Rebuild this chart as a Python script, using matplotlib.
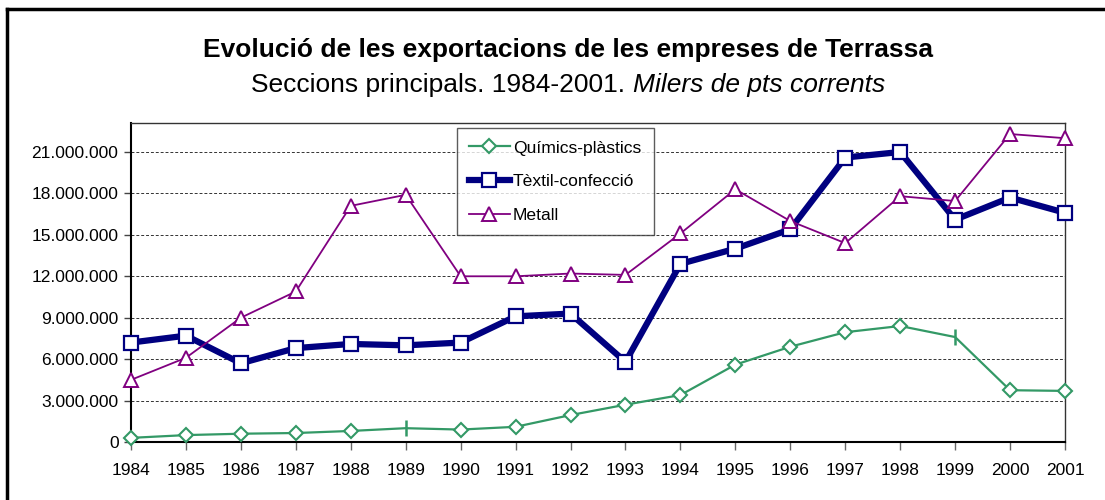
import matplotlib
matplotlib.use("Agg")
import matplotlib.pyplot as plt
from matplotlib.ticker import FuncFormatter, MultipleLocator
from matplotlib.lines import Line2D

plt.rcParams['font.family'] = ['Liberation Sans', 'DejaVu Sans']

years = list(range(1984, 2002))
quimics = [0.30, 0.50, 0.60, 0.65, 0.80, 1.00, 0.90, 1.10, 1.95, 2.70, 3.40, 5.60,
           6.90, 7.95, 8.40, 7.60, 3.75, 3.70]
textil = [7.20, 7.70, 5.70, 6.80, 7.10, 7.00, 7.20, 9.10, 9.30, 5.80, 12.90, 14.00,
          15.40, 20.60, 21.00, 16.10, 17.70, 16.60]
metall = [4.50, 6.10, 9.00, 10.90, 17.10, 17.90, 12.00, 12.00, 12.20, 12.10, 15.10, 18.30,
          16.00, 14.40, 17.80, 17.45, 22.30, 22.00]
quimics_tick_idx = [5, 15]  # points drawn with a vertical tick marker

series_names = ["Químics-plàstics", "Tèxtil-confecció", "Metall"]
title = "Evolució de les exportacions de les empreses de Terrassa"
subtitle_normal = "Seccions principals. 1984-2001. "
subtitle_italic = "Milers de pts corrents"

scale = 1e6
q = [v * scale for v in quimics]
t = [v * scale for v in textil]
m = [v * scale for v in metall]

W, H = 1105, 500
fig = plt.figure(figsize=(W / 100, H / 100), dpi=100)
ax = fig.add_axes([131 / W, 1 - 442 / H, (1065 - 131) / W, (442 - 123) / H])

green = "#339966"
navy = "#000080"
purple = "#800080"

# Químics
q_marks = [i for i in range(len(years)) if i not in quimics_tick_idx]
ax.plot(years, q, color=green, lw=1.6, marker="D", ms=7, mfc="white", mec=green,
        mew=1.5, markevery=q_marks, zorder=4, clip_on=False)
ax.plot([years[i] for i in quimics_tick_idx], [q[i] for i in quimics_tick_idx],
        ls="none", marker="|", ms=11, mew=1.8, color=green, zorder=4, clip_on=False)
# Tèxtil
ax.plot(years, t, color=navy, lw=4.5, marker="s", ms=10, mfc="white", mec=navy,
        mew=1.6, zorder=5, clip_on=False)
# Metall
ax.plot(years, m, color=purple, lw=1.3, marker="^", ms=10, mfc="white", mec=purple,
        mew=1.4, zorder=6, clip_on=False)

ax.set_xlim(1984, 2001)
ax.set_ylim(0, 23.1e6)
ax.set_xticks(years)
ax.set_xticklabels([str(y) for y in years])
ax.yaxis.set_major_locator(MultipleLocator(3e6))
ax.yaxis.set_major_formatter(FuncFormatter(lambda v, p: f"{int(round(v)):,}".replace(",", ".")))
ax.grid(axis="y", color="black", ls=(0, (3, 2)), lw=0.7, alpha=0.8)
ax.set_axisbelow(True)
ax.tick_params(axis="both", labelsize=12.5, colors="black", direction="out")
ax.tick_params(axis="y", length=5, width=1, color="#444444", pad=4)
ax.tick_params(axis="x", length=6, width=1, color="#666666", pad=9)
for s in ["left", "bottom"]:
    ax.spines[s].set_linewidth(1.5)
    ax.spines[s].set_color("black")
for s in ["top", "right"]:
    ax.spines[s].set_linewidth(1.0)
    ax.spines[s].set_color("#333333")

handles = [
    Line2D([], [], color=green, lw=1.6, marker="D", ms=7, mfc="white", mec=green, mew=1.5),
    Line2D([], [], color=navy, lw=4.5, marker="s", ms=10, mfc="white", mec=navy, mew=1.6),
    Line2D([], [], color=purple, lw=1.3, marker="^", ms=10, mfc="white", mec=purple, mew=1.4),
]
leg = ax.legend(handles, series_names, loc="upper left",
                bbox_to_anchor=((457 - 131) / (1065 - 131), (442 - 128) / (442 - 123)),
                fontsize=12.6, frameon=True, fancybox=False, edgecolor="#333333",
                handlelength=2.3, labelspacing=1.05, borderpad=0.7, handletextpad=0.2,
                borderaxespad=0)
leg.get_frame().set_linewidth(1.0)
leg.set_zorder(10)

cx = 568 / W
fig.text(cx, 1 - 50 / H, title, ha="center", va="center", fontsize=19, fontweight="bold")

# subtitle: normal + italic part, centred together
fig.canvas.draw()
renderer = fig.canvas.get_renderer()
t1 = fig.text(0, 1 - 85 / H, subtitle_normal, ha="left", va="center", fontsize=19)
t2 = fig.text(0, 1 - 85 / H, subtitle_italic, ha="left", va="center", fontsize=19,
              style="italic")
w1 = t1.get_window_extent(renderer).width
w2 = t2.get_window_extent(renderer).width
x0 = cx * W - (w1 + w2) / 2
t1.set_x(x0 / W)
t2.set_x((x0 + w1) / W)

# outer chart frame (top and left visible)
fig.add_artist(Line2D([7 / W, 7 / W], [0, 1 - 9 / H], color="black", lw=2.5,
                      transform=fig.transFigure))
fig.add_artist(Line2D([7 / W, 1], [1 - 9 / H, 1 - 9 / H], color="black", lw=2.5,
                      transform=fig.transFigure))

fig.savefig("out.png", dpi=100)
